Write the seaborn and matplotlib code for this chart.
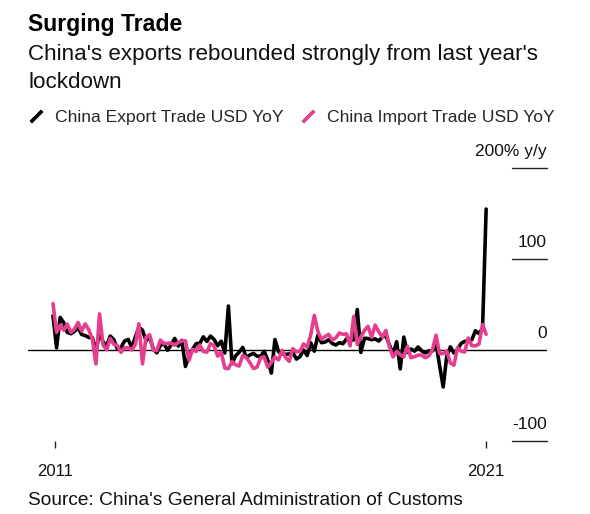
import numpy as np
import pandas as pd
import matplotlib
matplotlib.use('Agg')
import matplotlib.pyplot as plt
from matplotlib.lines import Line2D
from matplotlib.markers import MarkerStyle
import seaborn as sns

# Monthly y/y change in %, Jan 2011 .. Feb 2021
exports = [
    37.7, 2.4, 35.8, 29.9, 19.4, 17.9, 20.4, 24.5, 17.1, 15.9, 13.8, 13.4,
    -0.5, 18.4, 8.9, 4.9, 15.3, 11.3, 1.0, 2.7, 9.9, 11.6, 2.9, 14.1,
    25.0, 21.8, 10.0, 14.7, 1.0, -3.1, 5.1, 7.2, -0.3, 5.6, 12.7, 4.3,
    10.6, -18.1, -6.6, 0.9, 7.0, 7.2, 14.5, 9.4, 15.3, 11.6, 4.7, 9.7,
    -3.3, 48.3, -15.0, -6.4, -2.5, 2.8, -8.3, -5.5, -3.7, -6.9, -6.8, -1.4,
    -11.2, -25.4, 11.5, -1.8, -4.1, -4.8, -4.4, -2.8, -10.0, -7.3, 0.1, -6.1,
    7.9, -1.3, 16.4, 8.0, 8.7, 11.3, 7.2, 5.5, 8.1, 6.9, 12.3, 10.9,
    11.1, 44.5, -2.7, 12.9, 12.6, 11.3, 12.2, 9.8, 14.5, 15.6, 5.4, -4.4,
    9.1, -20.7, 14.2, -2.7, 1.1, -1.3, 3.3, -1.0, -3.2, -0.9, -1.1, 7.6,
    -17.2, -40.6, -6.6, 3.5, -3.3, 0.5, 7.2, 9.5, 9.9, 11.4, 21.1, 18.1,
    24.0, 154.9,
]
imports = [
    51.0, 19.4, 27.3, 21.8, 28.4, 19.3, 22.9, 30.2, 20.9, 28.7, 22.1, 11.8,
    -15.3, 39.6, 5.3, 0.3, 12.7, 6.3, 4.7, -2.6, 2.4, 2.4, 0.0, 6.0,
    28.8, -15.2, 14.1, 16.8, -0.3, -0.7, 10.9, 7.0, 7.4, 7.6, 5.3, 8.3,
    10.0, 10.1, -11.3, 0.8, -1.6, 5.5, -1.6, -2.4, 7.0, 4.6, -6.7, -2.4,
    -19.9, -20.5, -12.7, -16.2, -17.6, -6.1, -8.1, -13.8, -20.4, -18.8, -8.7, -7.6,
    -18.8, -13.8, -7.6, -10.9, -0.4, -8.4, -12.5, 1.5, -1.9, -1.4, 6.7, 3.1,
    16.7, 38.1, 20.3, 11.9, 14.8, 17.2, 11.0, 13.3, 18.7, 17.2, 17.7, 4.5,
    36.9, 6.3, 14.4, 21.5, 26.0, 14.1, 27.3, 20.0, 14.3, 21.4, 3.0, -7.6,
    -1.5, -5.2, -7.6, 4.0, -8.5, -7.3, -5.6, -5.6, -8.5, -6.4, 0.3, 16.3,
    -4.0, -4.0, -0.9, -14.2, -16.7, 2.7, -1.4, -2.1, 13.2, 4.7, 4.5, 6.5,
    28.0, 17.3,
]

series_names = ['China Export Trade USD YoY', 'China Import Trade USD YoY']
series_colors = ['#000000', '#E63E8F']

y_ticks = [-100, 0, 100, 200]
y_tick_labels = ['-100', '0', '100', '200% y/y']

# month index, 0 = Jan 2011
x_ticks = [0.5, 121]
x_tick_labels = ['2011', '2021']

months = np.arange(len(exports))
df = pd.DataFrame({
    'month': np.concatenate([months, months]),
    'value': exports + imports,
    'series': [series_names[0]] * len(exports) + [series_names[1]] * len(imports),
})

sns.set_style('white')
plt.rcParams['font.family'] = ['Liberation Sans', 'DejaVu Sans']

W, H = 590, 514
fig = plt.figure(figsize=(W / 100, H / 100), dpi=100)
ax = fig.add_axes([28 / W, 1 - 441 / H, 519 / W, 273 / H])

# zero line across the whole plot
ax.axhline(0, color='black', lw=1.0, zorder=1)

sns.lineplot(
    data=df, x='month', y='value', hue='series',
    hue_order=series_names, palette=series_colors,
    linewidth=2.6, errorbar=None, legend=False, ax=ax, zorder=3,
)

ax.set_xlim(-6.98, 138.0)
ax.set_ylim(-100, 200)

# right-hand labels with short rules under them
for v, lab in zip(y_ticks, y_tick_labels):
    if v != 0:
        ax.axhline(v, xmin=484 / 519, xmax=1, color='#222222', lw=1.0, clip_on=False)
    ax.annotate(lab, xy=(1, v), xycoords=('axes fraction', 'data'),
                xytext=(0, 8.5), textcoords='offset points',
                ha='right', va='baseline', fontsize=12.5, color='#111111')

ax.set_xticks(x_ticks, x_tick_labels)
ax.set_yticks([])
ax.tick_params(axis='x', bottom=True, length=5, width=1, color='#222222',
               pad=11.5, labelsize=12, labelcolor='#111111')
ax.set_xlabel('')
ax.set_ylabel('')
for s in ax.spines.values():
    s.set_visible(False)

# titles
fig.text(28 / W, 1 - 31 / H, 'Surging Trade', fontsize=16.6,
         fontweight='bold', va='baseline', color='#000000')
fig.text(28 / W, 1 - 60 / H, "China's exports rebounded strongly from last year's",
         fontsize=16.1, va='baseline', color='#111111')
fig.text(28 / W, 1 - 88 / H, 'lockdown', fontsize=16.1, va='baseline', color='#111111')

# legend with slanted stroke glyphs
stroke = MarkerStyle((2, 2, -45), capstyle='round')
handles = [
    Line2D([], [], linestyle='none', marker=stroke, markersize=11.5,
           markeredgewidth=2.4, color=c, markeredgecolor=c)
    for c in series_colors
]
fig.legend(handles, series_names, loc='center left',
           bbox_to_anchor=(27.3 / W, 1 - 117 / H), ncol=2, frameon=False,
           fontsize=12.6, handlelength=1.0, handletextpad=0.59,
           columnspacing=0.9, borderpad=0, borderaxespad=0)

fig.text(28 / W, 1 - 505 / H, "Source: China's General Administration of Customs",
         fontsize=13.8, va='baseline', color='#111111')

fig.savefig('out.png', dpi=100)
